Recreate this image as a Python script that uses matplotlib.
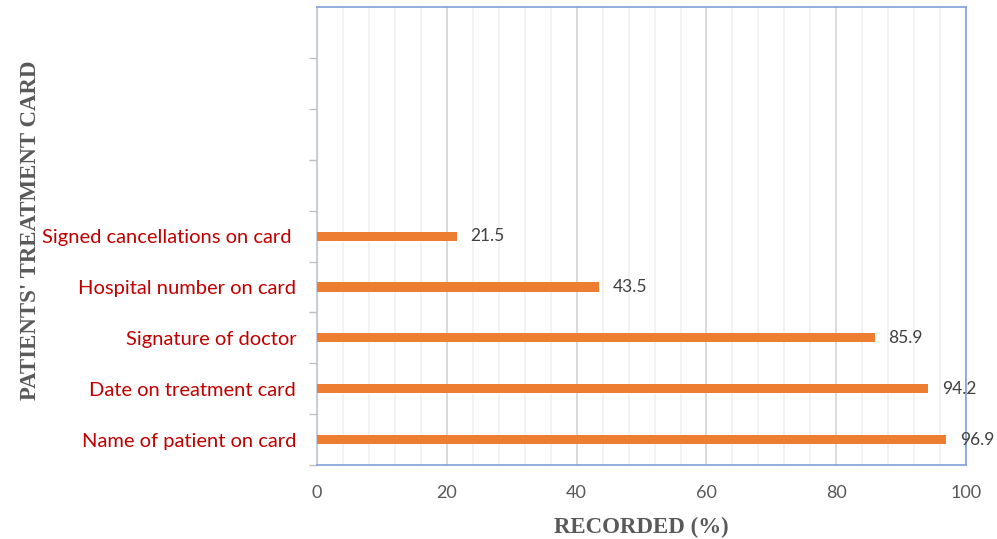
import matplotlib
matplotlib.use("Agg")
import matplotlib.pyplot as plt
from matplotlib.ticker import MultipleLocator, FixedLocator

# Items checked on the patients' treatment card (bottom to top); the
# last four slots of the category axis are blank.
categories = [
    "Name of patient on card",
    "Date on treatment card",
    "Signature of doctor",
    "Hospital number on card",
    "Signed cancellations on card ",
    "", "", "", "",
]
recorded = [96.9, 94.2, 85.9, 43.5, 21.5]
value_labels = ["96.9", "94.2", "85.9", "43.5", "21.5"]
x_ticks = [0, 20, 40, 60, 80, 100]

fig = plt.figure(figsize=(9.97, 5.39), dpi=100)
ax = fig.add_axes([0.318, 0.137, 0.651, 0.850])

ypos = list(range(len(categories)))
ax.barh(ypos[:len(recorded)], recorded, height=0.18, color="#ED7D31", zorder=3)

for y, v, lab in zip(ypos, recorded, value_labels):
    ax.annotate(lab, xy=(v, y), xytext=(10, 0), textcoords="offset points",
                ha="left", va="center", fontsize=12.5, color="#404040",
                family="Lato", zorder=4)

ax.set_xlim(0, 100)
ax.set_ylim(-0.5, len(categories) - 0.5)

ax.set_xticks(x_ticks)
ax.xaxis.set_minor_locator(MultipleLocator(4))
ax.grid(axis="x", which="major", color="#D9D9D9", linewidth=1.4, zorder=0)
ax.grid(axis="x", which="minor", color="#F0F0F0", linewidth=1.2, zorder=0)
ax.tick_params(axis="x", which="both", length=0, pad=14,
               labelsize=13, labelcolor="#595959")
for t in ax.get_xticklabels():
    t.set_family("Lato")

ax.set_yticks(ypos)
ax.set_yticklabels(categories)
ax.yaxis.set_minor_locator(FixedLocator([p + 0.5 for p in ypos[:-1]] + [-0.5]))
ax.tick_params(axis="y", which="major", length=0, pad=15,
               labelsize=14.5, labelcolor="#C00000")
ax.tick_params(axis="y", which="minor", length=6, width=1, color="#BFBFBF")
for t in ax.get_yticklabels():
    t.set_family("Lato")

for side in ("top", "right", "bottom"):
    ax.spines[side].set_color("#7F9FD4")
    ax.spines[side].set_linewidth(1.2)
ax.spines["left"].set_color("#BFC6D6")
ax.spines["left"].set_linewidth(1.2)

ax.set_xlabel("RECORDED (%)", family="Liberation Serif", fontweight="bold",
              fontsize=16.5, color="#595959", labelpad=12)
fig.text(0.031, 0.573, "PATIENTS' TREATMENT CARD", rotation=90,
         ha="center", va="center", family="Liberation Serif",
         fontweight="bold", fontsize=16.5, color="#595959")

fig.savefig("out.png", dpi=100, facecolor="white")
